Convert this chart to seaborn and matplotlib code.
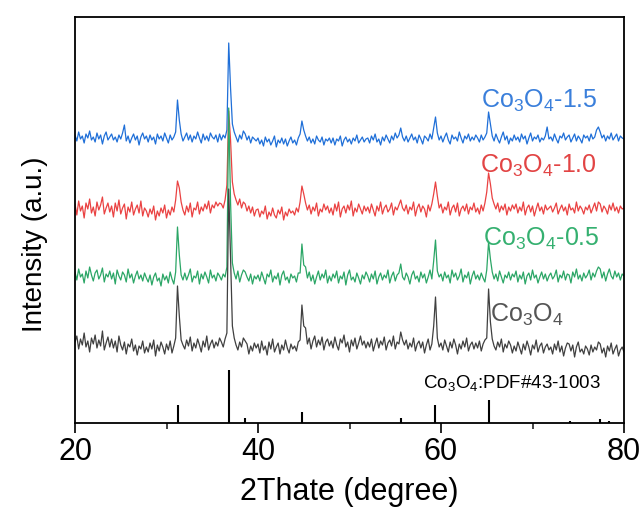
import numpy as np
import pandas as pd
import matplotlib
matplotlib.use("Agg")
import matplotlib.pyplot as plt
import seaborn as sns

# ---------------- data ----------------
two_theta_start = 20.0
two_theta_step = 0.2   # 301 samples, 20..80 deg

co3o4 = [
    24,30,17,27,21,33,19,25,14,28,22,31,18,26,20,35,16,23,29,19,
    27,18,25,14,30,21,16,24,12,22,19,27,15,21,11,20,17,25,13,19,
    14,23,17,26,10,21,15,24,19,12,22,16,25,13,20,28,80,50,26,21,
    17,26,20,29,15,23,18,27,21,14,25,19,30,16,22,26,18,24,20,28,
    24,19,27,33,177,110,40,28,21,16,24,19,28,25,22,12,20,15,23,18,
    22,13,25,16,20,11,24,17,27,14,19,23,12,21,16,26,18,13,22,17,
    20,15,24,26,61,40,38,22,28,17,25,30,19,26,21,29,16,24,27,20,
    25,18,29,21,16,27,23,31,19,24,14,26,20,28,17,23,30,21,25,18,
    24,19,27,15,22,28,18,25,21,29,16,23,26,20,30,17,24,22,34,26,
    21,26,17,23,19,28,15,22,25,18,24,13,21,27,16,22,40,69,28,19,
    23,16,26,20,14,24,18,27,21,12,22,17,25,19,28,15,21,24,17,23,
    18,25,15,22,26,28,77,44,27,20,16,24,19,27,14,22,18,25,21,13,
    20,15,24,18,12,22,16,25,19,11,21,17,26,14,20,23,13,19,22,16,
    19,12,22,16,25,14,20,10,18,23,22,15,21,9,19,24,14,17,12,20,
    17,11,21,14,19,16,24,22,13,18,9,20,15,23,12,17,21,10,16,19,
    14,
]
co3o4_05 = [
    25,17,28,20,23,14,26,19,30,22,16,24,27,18,22,29,15,23,20,26,
    18,24,13,27,21,17,25,22,15,28,19,23,14,21,26,18,22,16,24,19,
    15,22,12,20,24,16,19,11,23,17,21,14,25,18,13,25,70,42,22,17,
    24,17,22,28,15,21,19,26,13,23,18,25,20,14,27,19,22,16,24,21,
    17,23,20,30,189,95,34,24,18,26,15,22,27,25,20,16,23,13,21,18,
    22,16,25,19,13,23,20,27,15,21,18,24,12,22,26,17,20,14,23,19,
    21,15,24,24,53,32,30,19,25,16,22,13,20,26,17,23,19,27,14,21,
    16,23,19,26,14,21,18,25,12,22,27,17,20,15,24,19,13,22,18,25,
    21,15,23,18,26,13,20,24,17,22,19,27,14,21,25,16,22,24,33,20,
    17,24,20,13,22,26,18,21,15,25,19,23,14,20,27,18,36,57,26,20,
    23,16,25,19,22,14,27,20,24,17,21,28,15,22,19,25,13,21,26,18,
    22,17,24,19,15,27,55,38,25,18,23,16,26,20,14,22,19,25,17,23,
    20,26,15,22,18,25,13,21,24,17,27,19,22,14,20,25,18,23,16,21,
    24,18,21,27,15,22,19,26,17,23,22,14,25,20,28,18,22,16,24,19,
    22,27,17,24,20,26,30,28,19,25,16,23,28,21,18,26,20,24,17,23,
    21,
]
co3o4_10 = [
    26,15,29,19,24,12,27,21,31,17,23,14,28,20,25,33,16,22,27,18,
    24,13,27,19,30,16,22,26,11,23,18,28,15,21,25,17,29,14,22,19,
    13,21,16,24,10,19,14,22,17,25,12,20,15,23,18,30,49,42,28,20,
    15,24,18,27,13,22,20,28,16,23,19,26,21,29,17,25,22,28,24,27,
    26,22,30,45,119,90,48,36,30,25,31,22,28,26,19,24,17,23,14,20,
    21,13,19,16,24,11,18,14,22,15,12,20,16,23,10,18,14,21,17,19,
    15,22,18,28,44,36,27,20,25,16,23,19,27,14,21,18,26,20,24,17,
    22,15,26,19,28,13,21,24,17,25,20,29,14,22,18,26,21,16,24,19,
    23,17,26,20,14,24,19,28,16,22,25,18,21,27,15,23,20,25,30,22,
    19,25,16,23,20,28,14,22,26,18,24,21,13,25,19,26,36,48,34,22,
    26,17,23,20,28,15,22,25,18,27,14,21,24,19,26,16,23,20,27,18,
    22,16,25,19,27,38,57,46,32,26,21,27,18,24,20,26,15,23,19,25,
    21,26,17,23,19,28,15,22,25,18,24,14,21,27,19,23,16,25,20,22,
    24,18,22,27,16,21,25,19,23,15,26,20,22,17,28,19,24,21,16,23,
    20,25,17,22,27,19,28,26,18,24,21,16,25,20,27,19,23,17,24,21,
    22,
]
co3o4_15 = [
    23,17,26,19,22,15,24,20,27,18,21,16,25,19,23,14,22,26,18,21,
    24,18,21,16,23,19,25,33,17,22,15,20,24,18,22,13,21,25,19,22,
    16,23,18,21,14,24,19,22,17,25,20,15,23,18,21,26,58,38,24,17,
    21,25,18,23,16,22,19,26,20,15,24,18,22,17,25,21,19,23,16,24,
    18,23,20,28,115,70,34,26,21,16,23,19,27,24,18,22,15,21,19,17,
    20,14,18,12,21,16,19,13,17,22,11,18,15,20,14,19,12,17,21,15,
    18,13,20,24,37,28,22,17,21,15,19,14,22,18,16,21,13,19,17,20,
    15,20,13,19,17,22,12,18,21,16,19,14,20,17,23,15,18,21,16,19,
    20,15,22,18,24,16,19,13,21,17,23,19,15,22,18,25,20,23,30,21,
    17,22,16,20,24,18,21,15,23,19,14,22,20,17,24,19,30,41,25,18,
    22,16,21,25,18,14,23,19,21,17,26,20,15,22,19,24,17,21,18,23,
    20,16,23,18,21,25,46,34,22,17,24,19,15,21,26,18,22,14,20,17,
    23,18,21,16,24,19,22,14,20,25,17,21,19,23,16,20,18,22,31,19,
    21,17,24,19,15,22,20,25,18,21,23,16,20,24,17,22,19,15,23,20,
    22,17,24,19,21,28,31,26,20,23,17,22,19,25,18,21,24,17,22,20,
    19,
]

series_names = ["Co3O4-1.5", "Co3O4-1.0", "Co3O4-0.5", "Co3O4"]
series_values = [co3o4_15, co3o4_10, co3o4_05, co3o4]
series_offsets = [265, 193, 126, 57]
series_colors = ["#1f6fd8", "#ea4242", "#2ba666", "#404040"]
label_texts = [r"Co$_\mathregular{3}$O$_\mathregular{4}$-1.5",
               r"Co$_\mathregular{3}$O$_\mathregular{4}$-1.0",
               r"Co$_\mathregular{3}$O$_\mathregular{4}$-0.5",
               r"Co$_\mathregular{3}$O$_\mathregular{4}$"]
label_colors = ["#3a7fdb", "#e24444", "#35b070", "#555555"]
label_pos = [(64.4, 315), (64.3, 250), (64.6, 177), (65.4, 101)]

# PDF#43-1003 reference sticks
pdf_pos = [31.27, 36.85, 38.55, 44.81, 55.66, 59.36, 65.24, 74.12, 77.34, 78.40]
pdf_int = [18, 53, 5, 11, 5, 18, 23, 2, 4, 2]
pdf_label = r"Co$_\mathregular{3}$O$_\mathregular{4}$:PDF#43-1003"

# ---------------- figure ----------------
sns.set_theme(style="ticks")
plt.rcParams["font.family"] = ["Liberation Sans", "DejaVu Sans"]
plt.rcParams["mathtext.fontset"] = "custom"
plt.rcParams["mathtext.rm"] = "Liberation Sans"

fig = plt.figure(figsize=(6.44, 5.11), dpi=100)
ax = fig.add_axes([75/644, (511-423)/511, 549/644, 406/511])

n = len(co3o4)
two_theta = two_theta_start + two_theta_step * np.arange(n)
frames = []
for name, vals, off in zip(series_names, series_values, series_offsets):
    frames.append(pd.DataFrame({"two_theta": two_theta,
                                "intensity": np.asarray(vals, float) + off,
                                "sample": name}))
df = pd.concat(frames, ignore_index=True)

for name, color in zip(series_names, series_colors):
    sns.lineplot(data=df[df["sample"] == name], x="two_theta", y="intensity",
                 color=color, lw=0.9, ax=ax, estimator=None, sort=False,
                 errorbar=None)

ax.vlines(pdf_pos, 0, pdf_int, colors="black", lw=1.5)

for txt, col, (x, y) in zip(label_texts, label_colors, label_pos):
    ax.text(x, y, txt, color=col, fontsize=18, ha="left", va="baseline")
ax.text(58.0, 34, pdf_label, color="black", fontsize=13.5, ha="left", va="baseline")

ax.set_xlim(20, 80)
ax.set_ylim(0, 406)
ax.set_xticks([20, 40, 60, 80])
ax.set_xticks([30, 50, 70], minor=True)
ax.set_yticks([])
ax.tick_params(axis="x", which="major", direction="out", length=7, width=1.2,
               labelsize=22, pad=3, colors="black")
ax.tick_params(axis="x", which="minor", direction="out", length=4, width=1.2)
ax.tick_params(axis="x", top=False, which="both")
for s in ax.spines.values():
    s.set_visible(True)
    s.set_linewidth(1.3)
    s.set_color("black")

ax.set_xlabel("2Thate (degree)", fontsize=22, color="black")
ax.set_ylabel("Intensity (a.u.)", fontsize=20, color="black")
ax.xaxis.set_label_coords(0.5, -0.17)
ax.yaxis.set_label_coords(-0.05, 0.44)
ax.xaxis.label.set_va("center")

fig.savefig("out.png", dpi=100)
